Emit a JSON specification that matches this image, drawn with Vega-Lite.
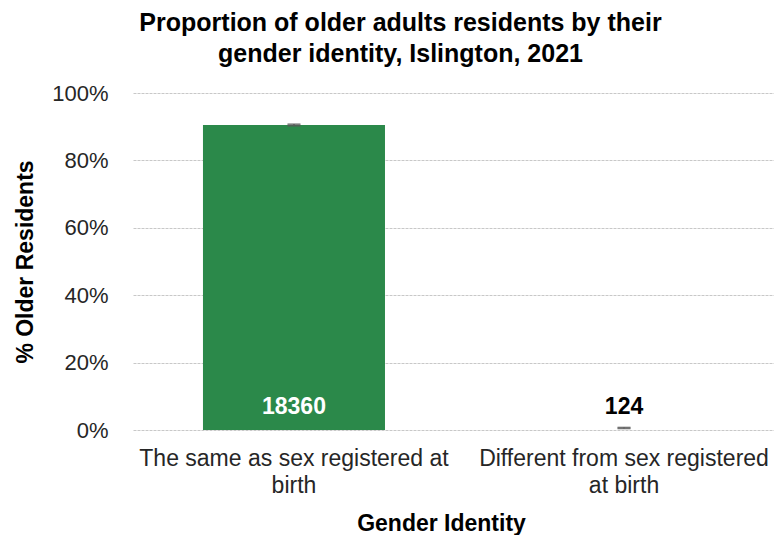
{
  "$schema": "https://vega.github.io/schema/vega-lite/v6.json",
  "width": 641,
  "height": 337,
  "autosize": {"type": "none"},
  "padding": {"left": 133, "top": 93, "right": 0, "bottom": 105},
  "background": "white",
  "config": {
    "font": "Liberation Sans",
    "view": {"stroke": null},
    "axis": {"labelFont": "Liberation Sans", "titleFont": "Liberation Sans"}
  },
  "title": {
    "text": ["Proportion of older adults residents by their", "gender identity, Islington, 2021"],
    "font": "Liberation Sans",
    "fontSize": 25,
    "fontWeight": "bold",
    "lineHeight": 31,
    "color": "#000000",
    "anchor": "middle",
    "dx": -53,
    "offset": 15
  },
  "data": {
    "values": [
      {"identity": "The same as sex registered at birth", "count": 18360, "share": 0.905, "lo": 0.903, "hi": 0.907},
      {"identity": "Different from sex registered at birth", "count": 124, "share": 0.006, "lo": 0.005, "hi": 0.007}
    ]
  },
  "encoding": {
    "x": {
      "field": "identity",
      "type": "nominal",
      "sort": null,
      "scale": {"range": [0, 652], "paddingInner": 0.4485, "paddingOuter": 0.212},
      "axis": {
        "title": "Gender Identity",
        "titleFontSize": 23,
        "titleFontWeight": "bold",
        "titleColor": "#000000",
        "titleX": 308,
        "titleY": 100,
        "titleBaseline": "alphabetic",
        "labelAngle": 0,
        "labelFontSize": 23,
        "labelColor": "#262626",
        "labelLineHeight": 27,
        "labelPadding": 17,
        "labelBound": false,
        "labelOverlap": false,
        "labelLimit": 400,
        "labelExpr": "datum.value == 'The same as sex registered at birth' ? ['The same as sex registered at', 'birth'] : ['Different from sex registered', 'at birth']",
        "ticks": false,
        "domain": false,
        "grid": false
      }
    }
  },
  "layer": [
    {
      "mark": {"type": "bar"},
      "encoding": {
        "y": {
          "field": "share",
          "type": "quantitative",
          "title": "% Older Residents",
          "scale": {"domain": [0, 1], "nice": false},
          "axis": {
            "titleFontSize": 23,
            "titleFontWeight": "bold",
            "titleColor": "#000000",
            "titlePadding": 14,
            "format": ".0%",
            "values": [0, 0.2, 0.4, 0.6, 0.8, 1],
            "labelFontSize": 22,
            "labelColor": "#262626",
            "labelPadding": 25,
            "ticks": false,
            "domain": false,
            "grid": true,
            "gridColor": "#c8c8c8",
            "gridDash": [3, 1],
            "gridWidth": 1
          }
        },
        "color": {
          "condition": {"test": "datum.share > 0.5", "value": "#2b894a"},
          "value": "transparent"
        }
      }
    },
    {
      "mark": {"type": "errorbar", "ticks": {"size": 13, "thickness": 2, "color": "#595959"}, "rule": {"color": "#595959", "strokeWidth": 2}},
      "encoding": {
        "y": {"field": "lo", "type": "quantitative", "title": "% Older Residents"},
        "y2": {"field": "hi"}
      }
    },
    {
      "mark": {"type": "text", "fontSize": 23, "fontWeight": "bold", "baseline": "alphabetic", "dy": -16},
      "encoding": {
        "y": {"datum": 0, "type": "quantitative", "title": "% Older Residents"},
        "text": {"field": "count", "type": "quantitative", "format": "d"},
        "color": {
          "condition": {"test": "datum.share > 0.5", "value": "#ffffff"},
          "value": "#000000"
        }
      }
    }
  ]
}
